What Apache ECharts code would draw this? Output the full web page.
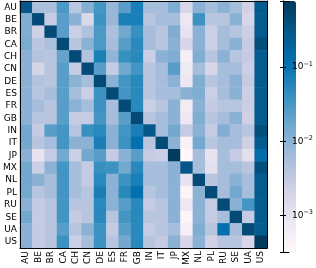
<!DOCTYPE html>
<html><head><meta charset="utf-8">
<script src="https://cdn.jsdelivr.net/npm/echarts@6/dist/echarts.min.js"></script>
<style>html,body{margin:0;padding:0;background:#fff}#c{width:316px;height:268px}</style>
</head><body><div id="c"></div>
<script>
const countries = ['AU','BE','BR','CA','CH','CN','DE','ES','FR','GB','IN','IT','JP','MX','NL','PL','RU','SE','UA','US'];
// rows = source country, columns = target country
const values = [
 [0.32,0.0052,0.0052,0.030,0.0037,0.0112,0.034,0.0079,0.024,0.071, 0.0059,0.0059,0.0126,0.0017,0.010,0.0059,0.010,0.0059,0.0022,0.28],
 [0.0126,0.45,0.0030,0.024,0.010,0.0016,0.038,0.0079,0.071,0.071, 0.0040,0.0059,0.0059,0.00083,0.038,0.0040,0.0040,0.010,0.0017,0.28],
 [0.0126,0.0022,0.45,0.024,0.0025,0.0047,0.030,0.0052,0.016,0.042, 0.0059,0.0040,0.0126,0.0010,0.010,0.0025,0.0059,0.0040,0.0025,0.28],
 [0.014,0.0037,0.0052,0.45,0.0040,0.010,0.030,0.0059,0.024,0.054, 0.0059,0.0040,0.010,0.0017,0.010,0.0025,0.0059,0.010,0.0030,0.40],
 [0.010,0.0044,0.0040,0.020,0.45,0.0044,0.071,0.0089,0.042,0.054, 0.0025,0.010,0.0126,0.00052,0.0126,0.0040,0.010,0.0040,0.0030,0.28],
 [0.010,0.0019,0.0040,0.024,0.0030,0.45,0.024,0.0030,0.016,0.034, 0.0040,0.0059,0.024,0.00076,0.0059,0.0017,0.0059,0.0059,0.0025,0.28],
 [0.010,0.0044,0.0040,0.024,0.010,0.0059,0.45,0.010,0.034,0.054, 0.0040,0.0059,0.010,0.00083,0.0126,0.0040,0.0059,0.010,0.0030,0.28],
 [0.010,0.0040,0.0059,0.024,0.0059,0.0025,0.038,0.45,0.034,0.054, 0.0040,0.0059,0.0059,0.010,0.0126,0.0025,0.0059,0.010,0.0025,0.28],
 [0.010,0.0059,0.0040,0.024,0.010,0.0059,0.038,0.0059,0.45,0.054, 0.0025,0.0040,0.010,0.00066,0.010,0.0030,0.0040,0.0040,0.0025,0.28],
 [0.010,0.0040,0.0040,0.024,0.0030,0.0030,0.034,0.0059,0.024,0.45, 0.0040,0.0059,0.010,0.00083,0.0126,0.0040,0.0059,0.010,0.0022,0.28],
 [0.016,0.0030,0.024,0.034,0.0040,0.042,0.054,0.010,0.034,0.071, 0.32,0.0059,0.016,0.0030,0.010,0.0030,0.0126,0.0059,0.0040,0.40],
 [0.016,0.0040,0.0059,0.034,0.010,0.010,0.071,0.010,0.038,0.11, 0.0040,0.45,0.010,0.00045,0.016,0.0040,0.0059,0.0059,0.0022,0.28],
 [0.010,0.0010,0.0030,0.016,0.0025,0.016,0.024,0.0030,0.010,0.024, 0.0030,0.0025,0.71,0.00032,0.0059,0.0010,0.0059,0.0030,0.0012,0.13],
 [0.016,0.0025,0.010,0.034,0.0059,0.0030,0.042,0.038,0.016,0.054, 0.0059,0.0059,0.010,0.32,0.0059,0.0012,0.0059,0.0059,0.0040,0.40],
 [0.016,0.010,0.0059,0.034,0.0059,0.0030,0.054,0.010,0.038,0.071, 0.0059,0.0059,0.010,0.0010,0.45,0.0040,0.0059,0.010,0.0059,0.28],
 [0.016,0.0040,0.0059,0.034,0.0059,0.0040,0.071,0.010,0.054,0.11, 0.0040,0.0059,0.010,0.00038,0.010,0.45,0.0059,0.016,0.0059,0.28],
 [0.010,0.0030,0.0040,0.034,0.0040,0.0040,0.054,0.010,0.024,0.054, 0.0030,0.0040,0.010,0.00083,0.010,0.0030,0.45,0.010,0.034,0.28],
 [0.016,0.0030,0.0040,0.034,0.0030,0.0040,0.054,0.0040,0.034,0.054, 0.0040,0.0040,0.010,0.00038,0.010,0.0030,0.0059,0.45,0.0030,0.28],
 [0.010,0.0030,0.0040,0.024,0.0040,0.010,0.038,0.0030,0.024,0.054, 0.0030,0.0040,0.0059,0.00052,0.0126,0.0040,0.11,0.0059,0.45,0.28],
 [0.010,0.0030,0.0040,0.038,0.0025,0.0059,0.038,0.0040,0.016,0.054, 0.0040,0.0030,0.010,0.0017,0.010,0.0022,0.0040,0.0040,0.0017,0.71]
];
const cbMin = 3.2e-4, cbMax = 0.78;
const PuBu = ['#fff7fb','#ece7f2','#d0d1e6','#a6bddb','#74a9cf','#3690c0','#0570b0','#045a8d','#023858'];

const data = [];
values.forEach((row, r) => row.forEach((v, c) => data.push([c, r, Math.log10(v)])));

const FONT = 'DejaVu Sans';
const chart = echarts.init(document.getElementById('c'), null, {renderer: 'canvas'});
const lbl = {color: '#000', fontFamily: FONT, fontSize: 9};
const lineK = {show: true, lineStyle: {color: '#000', width: 1}};
const supFmt = v => {
  const e = Math.log10(v);
  if (Math.abs(e - Math.round(e)) > 1e-6) return '';
  return '{b|10}{s|' + String(Math.round(e)).replace('-', '\u2212') + '}';
};
chart.setOption({
  animation: false,
  grid: [
    {left: 16, top: 1, width: 251, height: 251},
    {left: 283, top: 1, width: 13, height: 251}
  ],
  xAxis: [
    {gridIndex: 0, type: 'category', data: countries, position: 'bottom', z: 10,
     axisLine: lineK, axisTick: {alignWithLabel: true, length: 3.5, lineStyle: {color: '#000'}},
     axisLabel: Object.assign({rotate: 90, margin: 3, interval: 0}, lbl), splitLine: {show: false}},
    {gridIndex: 0, type: 'category', data: countries, position: 'top', z: 10,
     axisLine: lineK, axisTick: {alignWithLabel: true, inside: true, length: 3, lineStyle: {color: '#000'}},
     axisLabel: {show: false}},
    {gridIndex: 1, type: 'value', min: 0, max: 1, position: 'bottom', z: 10, axisLine: lineK,
     axisTick: {show: false}, axisLabel: {show: false}, splitLine: {show: false}},
    {gridIndex: 1, type: 'value', min: 0, max: 1, position: 'top', z: 10, axisLine: lineK,
     axisTick: {show: false}, axisLabel: {show: false}, splitLine: {show: false}}
  ],
  yAxis: [
    {gridIndex: 0, type: 'category', data: countries, inverse: true, position: 'left', z: 10,
     axisLine: lineK, axisTick: {alignWithLabel: true, length: 3.5, lineStyle: {color: '#000'}},
     axisLabel: Object.assign({margin: 3, interval: 0}, lbl)},
    {gridIndex: 0, type: 'category', data: countries, inverse: true, position: 'right', z: 10,
     axisLine: lineK, axisTick: {alignWithLabel: true, inside: true, length: 3, lineStyle: {color: '#000'}},
     axisLabel: {show: false}},
    {gridIndex: 1, type: 'log', logBase: 10, min: cbMin, max: cbMax, position: 'left', z: 10,
     axisLine: lineK, axisTick: {inside: true, length: 3, lineStyle: {color: '#000'}},
     axisLabel: {show: false}, splitLine: {show: false}},
    {gridIndex: 1, type: 'log', logBase: 10, min: cbMin, max: cbMax, position: 'right', z: 10,
     axisLine: lineK, axisTick: {inside: true, length: 3, lineStyle: {color: '#000'}},
     axisLabel: {margin: 3, formatter: supFmt, color: '#000',
       rich: {b: {fontFamily: FONT, fontSize: 9, color: '#000'},
              s: {fontFamily: FONT, fontSize: 6.5, color: '#000', padding: [0, 0, 6, 0]}}},
     splitLine: {show: false}}
  ],
  visualMap: {
    type: 'continuous', min: Math.log10(cbMin), max: Math.log10(cbMax), dimension: 2, seriesIndex: 0,
    calculable: false, orient: 'vertical', left: 283, top: 1, itemWidth: 13, itemHeight: 251,
    padding: 0, inRange: {color: PuBu}, hoverLink: false
  },
  series: [{
    type: 'heatmap', xAxisIndex: 0, yAxisIndex: 0, data: data,
    itemStyle: {borderWidth: 0}, emphasis: {disabled: true}, progressive: 0
  }]
});
</script></body></html>
